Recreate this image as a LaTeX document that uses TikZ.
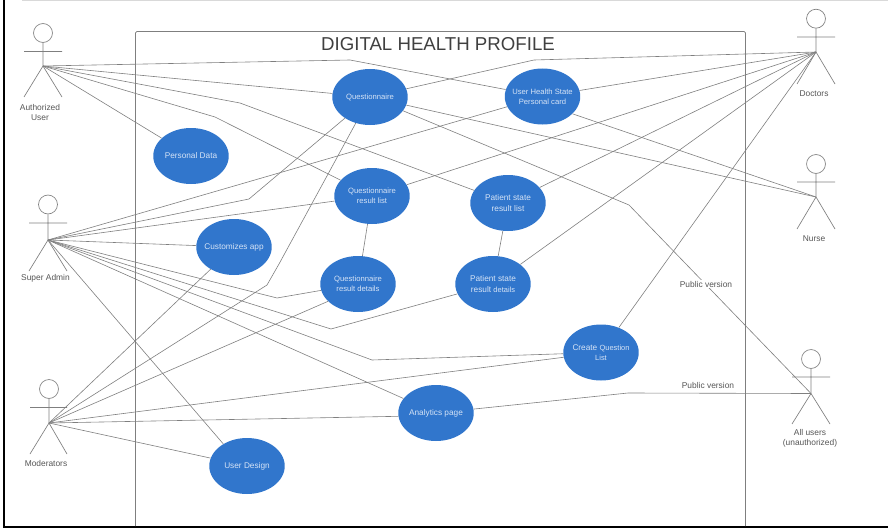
\documentclass[tikz,border=0pt]{standalone}
\usepackage{fontspec}
\setmainfont{Liberation Sans}
\usepackage{xcolor}
\usetikzlibrary{shapes.geometric}
\definecolor{usecaseblue}{HTML}{3176CC}
\definecolor{usecasetext}{HTML}{D5E3F6}
\definecolor{linegray}{HTML}{7F7F7F}
\definecolor{labelgray}{HTML}{555555}
\tikzset{
  usecase/.style={ellipse,fill=usecaseblue,text=usecasetext,minimum width=56.6pt,minimum height=42pt,inner xsep=-6pt,inner ysep=-4pt,align=center,font=\fontsize{6.2}{7.6}\selectfont},
  smalluse/.style={usecase,font=\fontsize{5.75}{7.2}\selectfont},
  actorlabel/.style={text=labelgray,inner sep=0.75pt,align=center,font=\fontsize{6.3}{7.6}\selectfont},
  actorline/.style={draw=linegray,line width=0.5pt},
  actorhead/.style={circle,draw=linegray,line width=0.5pt,minimum size=14.2pt,inner sep=0pt},
  link/.style={draw=linegray,line width=0.45pt},
}
\begin{document}
\begin{tikzpicture}[x=0.75pt,y=0.75pt,yscale=-1,xscale=1]
  \useasboundingbox (0,0) rectangle (888,528);

  %Page edges
  \draw [color=black!15,line width=0.9pt] (22,0.3) -- (888,0.3);
  \draw [color=black,line width=1.2pt] (4.2,0) -- (4.2,527) -- (888,527);

  %System boundary
  \draw [linegray,line width=0.55pt,rounded corners=1pt] (135.5,526) -- (135.5,31.5) -- (745.5,31.5) -- (745.5,526);
  % Text Node
  \node [text=black!75,inner sep=0.75pt,font=\fontsize{14}{16}\selectfont] (systitle) at (438,44) {DIGITAL HEALTH PROFILE};

  %Use cases
  \node [smalluse] (questionnaire) at (370,97) {Questionnaire};
  \node [smalluse] (healthcard) at (542.5,96.5) {User Health State\\Personal card};
  \node [usecase] (personaldata) at (191,156) {Personal Data};
  \node [smalluse] (qlist) at (372,196) {Questionnaire\\result list};
  \node [usecase] (customizes) at (234,247) {Customizes app};
  \node [usecase] (plist) at (508,203) {Patient state\\result list};
  \node [smalluse] (qdetails) at (358,284) {Questionnaire\\result details};
  \node [usecase] (pdetails) at (493,284) {Patient state\\result {\fontsize{5.6}{7.6}\selectfont details}};
  \node [usecase] (createlist) at (601,352.5) {Create {\fontsize{5.6}{7.6}\selectfont Question}\\{\fontsize{5.6}{7.6}\selectfont List}};
  \node [usecase] (analytics) at (436,413) {Analytics page};
  \node [usecase] (userdesign) at (247,466) {User Design};

  %Authorized User
  \node [actorhead] (authhead) at (43,33) {};
  \coordinate (authuser) at (43,66);
  \draw [actorline] (authhead) -- (authuser) -- (24,97) (authuser) -- (62,97) (24,51.5) -- (62,51.5);
  \node [actorlabel] (authlabel) at (40,112.5) {Authorized\\User};
  %Super Admin
  \node [actorhead] (adminhead) at (48,204.5) {};
  \coordinate (superadmin) at (48,240);
  \draw [actorline] (adminhead) -- (superadmin) -- (29,271) (superadmin) -- (67,271) (29,223) -- (67,223);
  \node [actorlabel] (adminlabel) at (45.5,278.5) {Super Admin};
  %Moderators
  \node [actorhead] (modhead) at (49,389) {};
  \coordinate (moderators) at (49,423);
  \draw [actorline] (modhead) -- (moderators) -- (30,454) (moderators) -- (67,454) (30,407.5) -- (67,407.5);
  \node [actorlabel] (modlabel) at (46,463.5) {Moderators};
  %Doctors
  \node [actorhead] (dochead) at (816,18.7) {};
  \coordinate (doctors) at (816,52);
  \draw [actorline] (dochead) -- (doctors) -- (797,84) (doctors) -- (835,84) (797,37) -- (835,37);
  \node [actorlabel] (doclabel) at (814,93.7) {Doctors};
  %Nurse
  \node [actorhead] (nursehead) at (816,164) {};
  \coordinate (nurse) at (816,197);
  \draw [actorline] (nursehead) -- (nurse) -- (797,229) (nurse) -- (835,229) (797,182) -- (835,182);
  \node [actorlabel] (nurselabel) at (814,238.7) {Nurse};
  %All users
  \node [actorhead] (allhead) at (811,359) {};
  \coordinate (allusers) at (811,393.5);
  \draw [actorline] (allhead) -- (allusers) -- (792,424) (allusers) -- (830,424) (792,377) -- (830,377);
  \node [actorlabel] (alllabel) at (810,438.5) {All users\\(unauthorized)};

  %Authorized User links
  \draw [link] (authuser) -- (personaldata);
  \draw [link] (authuser) -- (questionnaire);
  \draw [link] (authuser) -- (350,60) -- (healthcard);
  \draw [link] (authuser) -- (240,103) -- (plist);
  \draw [link] (authuser) -- (215,117) -- (qlist);

  %Super Admin links
  \draw [link] (superadmin) -- (healthcard);
  \draw [link] (superadmin) -- (249,199) -- (questionnaire);
  \draw [link] (superadmin) -- (qlist);
  \draw [link] (superadmin) -- (customizes);
  \draw [link] (superadmin) -- (277,298) -- (qdetails);
  \draw [link] (superadmin) -- (331,329) -- (pdetails);
  \draw [link] (superadmin) -- (372,360) -- (createlist);
  \draw [link] (superadmin) -- (analytics);
  \draw [link] (superadmin) -- (userdesign.137);

  %Moderators links
  \draw [link] (moderators) -- (customizes);
  \draw [link] (moderators) -- (267,285) -- (279,264) -- (questionnaire);
  \draw [link] (moderators) -- (qdetails.210);
  \draw [link] (moderators) -- (createlist);
  \draw [link] (moderators) -- (analytics.185);
  \draw [link] (moderators) -- (userdesign);

  %Doctors links
  \draw [link] (doctors) -- (534,60) -- (questionnaire);
  \draw [link] (doctors) -- (healthcard);
  \draw [link] (doctors) -- (qlist);
  \draw [link] (doctors) -- (plist);
  \draw [link] (doctors) -- (pdetails);
  \draw [link] (doctors) -- (createlist);

  %Nurse links
  \draw [link] (nurse) -- (questionnaire);
  \draw [link] (nurse) -- (healthcard.-30);

  %All users links
  \draw [link] (allusers) -- (629,205) -- (questionnaire);
  \draw [link] (allusers) -- (628,393) -- (analytics);

  %Details links
  \draw [link] (qlist) -- (qdetails);
  \draw [link] (plist) -- (pdetails);

  % Text Node
  \node [actorlabel,fill=white] (publicupper) at (706,284) {Public version};
  % Text Node
  \node [actorlabel] (publiclower) at (708,385.5) {Public version};
\end{tikzpicture}
\end{document}
